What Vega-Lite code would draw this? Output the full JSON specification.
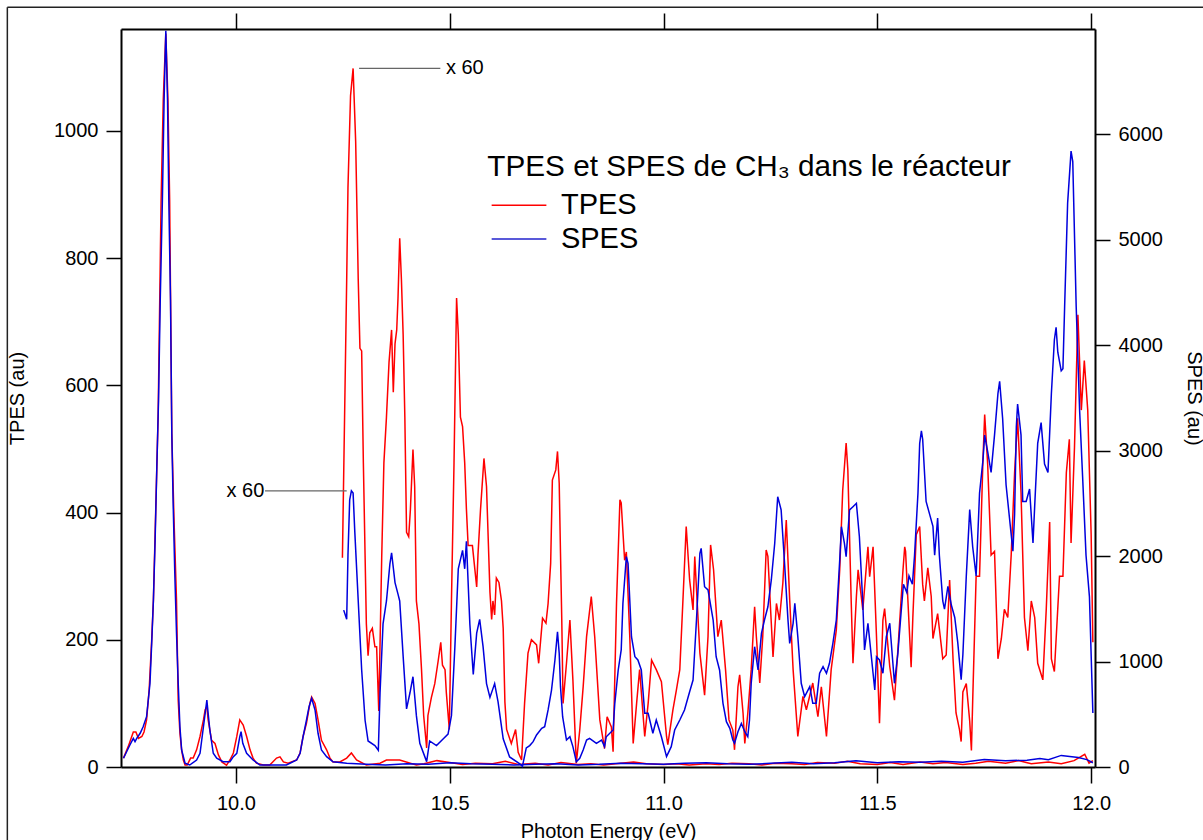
{
  "$schema": "https://vega.github.io/schema/vega-lite/v6.json",
  "width": 974,
  "height": 738,
  "autosize": {"type": "none"},
  "padding": {"left": 121, "top": 29, "right": 108, "bottom": 73},
  "background": "white",
  "config": {"view": {"stroke": null}, "font": "Liberation Sans"},
  "datasets": {
    "tpes": [
      {"E":9.737,"v":14},{"E":9.748,"v":32},{"E":9.760,"v":55},{"E":9.766,"v":55},{"E":9.772,"v":45},{"E":9.780,"v":48},{"E":9.785,"v":55},{"E":9.791,"v":74},{"E":9.797,"v":121},{"E":9.803,"v":200},{"E":9.807,"v":262},{"E":9.811,"v":367},{"E":9.815,"v":472},{"E":9.818,"v":551},{"E":9.825,"v":891},{"E":9.830,"v":1048},{"E":9.836,"v":1153},{"E":9.841,"v":1048},{"E":9.845,"v":891},{"E":9.850,"v":524},{"E":9.855,"v":393},{"E":9.861,"v":262},{"E":9.865,"v":105},{"E":9.869,"v":53},{"E":9.873,"v":27},{"E":9.877,"v":11},{"E":9.881,"v":3},{"E":9.886,"v":3},{"E":9.894,"v":14},{"E":9.900,"v":14},{"E":9.908,"v":27},{"E":9.916,"v":48},{"E":9.924,"v":74},{"E":9.928,"v":90},{"E":9.932,"v":95},{"E":9.935,"v":74},{"E":9.943,"v":42},{"E":9.951,"v":37},{"E":9.959,"v":19},{"E":9.967,"v":8},{"E":9.978,"v":3},{"E":9.986,"v":11},{"E":9.994,"v":22},{"E":10.002,"v":48},{"E":10.009,"v":74},{"E":10.017,"v":66},{"E":10.025,"v":48},{"E":10.033,"v":27},{"E":10.040,"v":14},{"E":10.048,"v":6},{"E":10.064,"v":3},{"E":10.079,"v":3},{"E":10.095,"v":14},{"E":10.103,"v":16},{"E":10.111,"v":8},{"E":10.122,"v":6},{"E":10.142,"v":11},{"E":10.150,"v":22},{"E":10.157,"v":48},{"E":10.165,"v":69},{"E":10.173,"v":100},{"E":10.177,"v":110},{"E":10.185,"v":100},{"E":10.192,"v":74},{"E":10.200,"v":42},{"E":10.212,"v":27},{"E":10.220,"v":14},{"E":10.227,"v":8},{"E":10.243,"v":8},{"E":10.259,"v":14},{"E":10.270,"v":22},{"E":10.282,"v":11},{"E":10.305,"v":3},{"E":10.337,"v":6},{"E":10.352,"v":11},{"E":10.383,"v":11},{"E":10.422,"v":3},
      {"E":10.44,"v":5},{"E":10.47,"v":10},{"E":10.50,"v":7},{"E":10.53,"v":4},{"E":10.56,"v":6},{"E":10.60,"v":5},{"E":10.63,"v":9},{"E":10.66,"v":4},{"E":10.70,"v":6},{"E":10.73,"v":3},{"E":10.76,"v":7},{"E":10.80,"v":4},{"E":10.83,"v":5},{"E":10.86,"v":3},{"E":10.90,"v":6},{"E":10.93,"v":8},{"E":10.96,"v":5},{"E":11.00,"v":4},{"E":11.03,"v":5},{"E":11.06,"v":3},{"E":11.10,"v":5},{"E":11.13,"v":4},{"E":11.16,"v":6},{"E":11.20,"v":5},{"E":11.23,"v":3},{"E":11.26,"v":6},{"E":11.30,"v":5},{"E":11.33,"v":4},{"E":11.36,"v":7},{"E":11.40,"v":6},{"E":11.43,"v":9},{"E":11.46,"v":5},{"E":11.50,"v":4},{"E":11.53,"v":7},{"E":11.56,"v":4},{"E":11.60,"v":8},{"E":11.63,"v":5},{"E":11.66,"v":7},{"E":11.70,"v":4},{"E":11.73,"v":6},{"E":11.76,"v":9},{"E":11.80,"v":6},{"E":11.83,"v":10},{"E":11.86,"v":5},{"E":11.90,"v":8},{"E":11.93,"v":5},{"E":11.96,"v":10},{"E":11.985,"v":20},{"E":11.995,"v":6},{"E":12.004,"v":10}
    ],
    "spes": [
      {"E":9.737,"v":83},{"E":9.752,"v":209},{"E":9.760,"v":272},{"E":9.764,"v":240},{"E":9.768,"v":272},{"E":9.776,"v":320},{"E":9.783,"v":382},{"E":9.791,"v":477},{"E":9.799,"v":794},{"E":9.803,"v":1173},{"E":9.807,"v":1584},{"E":9.811,"v":2153},{"E":9.815,"v":2848},{"E":9.819,"v":3481},{"E":9.823,"v":4429},{"E":9.828,"v":5378},{"E":9.832,"v":6326},{"E":9.836,"v":6984},{"E":9.840,"v":6326},{"E":9.843,"v":5378},{"E":9.847,"v":4429},{"E":9.850,"v":3165},{"E":9.853,"v":2532},{"E":9.857,"v":1837},{"E":9.861,"v":1268},{"E":9.865,"v":794},{"E":9.869,"v":382},{"E":9.873,"v":161},{"E":9.881,"v":35},{"E":9.892,"v":19},{"E":9.908,"v":66},{"E":9.916,"v":130},{"E":9.924,"v":382},{"E":9.932,"v":635},{"E":9.935,"v":509},{"E":9.939,"v":351},{"E":9.947,"v":130},{"E":9.955,"v":83},{"E":9.970,"v":50},{"E":9.986,"v":50},{"E":9.994,"v":98},{"E":10.002,"v":130},{"E":10.009,"v":287},{"E":10.012,"v":335},{"E":10.016,"v":225},{"E":10.025,"v":130},{"E":10.040,"v":66},{"E":10.056,"v":19},{"E":10.118,"v":19},{"E":10.142,"v":66},{"E":10.150,"v":130},{"E":10.157,"v":287},{"E":10.165,"v":446},{"E":10.171,"v":572},{"E":10.177,"v":652},{"E":10.185,"v":541},{"E":10.192,"v":320},{"E":10.200,"v":161},{"E":10.212,"v":98},{"E":10.227,"v":50},{"E":10.259,"v":35},{"E":10.305,"v":26},
      {"E":10.35,"v":20},{"E":10.40,"v":30},{"E":10.45,"v":25},{"E":10.50,"v":40},{"E":10.55,"v":30},{"E":10.60,"v":25},{"E":10.65,"v":20},{"E":10.70,"v":25},{"E":10.75,"v":30},{"E":10.80,"v":20},{"E":10.85,"v":25},{"E":10.90,"v":35},{"E":10.95,"v":30},{"E":11.00,"v":25},{"E":11.05,"v":35},{"E":11.10,"v":40},{"E":11.15,"v":30},{"E":11.20,"v":25},{"E":11.25,"v":35},{"E":11.30,"v":45},{"E":11.35,"v":30},{"E":11.40,"v":40},{"E":11.45,"v":60},{"E":11.50,"v":40},{"E":11.55,"v":50},{"E":11.60,"v":45},{"E":11.65,"v":55},{"E":11.70,"v":45},{"E":11.75,"v":70},{"E":11.80,"v":60},{"E":11.85,"v":65},{"E":11.88,"v":80},{"E":11.90,"v":70},{"E":11.93,"v":110},{"E":11.95,"v":100},{"E":11.97,"v":90},{"E":11.99,"v":70},{"E":12.004,"v":40}
    ],
    "tpes60": [
      {"E":10.249,"v":329},{"E":10.259,"v":766},{"E":10.262,"v":911},{"E":10.268,"v":1055},{"E":10.274,"v":1098},{"E":10.280,"v":983},{"E":10.286,"v":766},{"E":10.290,"v":658},{"E":10.294,"v":654},{"E":10.298,"v":478},{"E":10.302,"v":333},{"E":10.305,"v":225},{"E":10.309,"v":175},{"E":10.313,"v":211},{"E":10.319,"v":218},{"E":10.325,"v":189},{"E":10.329,"v":189},{"E":10.334,"v":88},{"E":10.341,"v":333},{"E":10.346,"v":478},{"E":10.352,"v":550},{"E":10.358,"v":636},{"E":10.364,"v":687},{"E":10.368,"v":589},{"E":10.372,"v":665},{"E":10.376,"v":687},{"E":10.379,"v":737},{"E":10.383,"v":831},{"E":10.387,"v":766},{"E":10.391,"v":680},{"E":10.395,"v":550},{"E":10.399,"v":369},{"E":10.404,"v":362},{"E":10.408,"v":405},{"E":10.414,"v":499},{"E":10.418,"v":441},{"E":10.422,"v":261},{"E":10.428,"v":225},{"E":10.434,"v":153},{"E":10.439,"v":81},{"E":10.446,"v":30},{"E":10.449,"v":81},{"E":10.457,"v":109},{"E":10.465,"v":131},{"E":10.473,"v":167},{"E":10.479,"v":196},{"E":10.483,"v":160},{"E":10.489,"v":153},{"E":10.492,"v":117},{"E":10.499,"v":59},{"E":10.504,"v":261},{"E":10.510,"v":478},{"E":10.516,"v":737},{"E":10.520,"v":680},{"E":10.525,"v":550},{"E":10.530,"v":535},{"E":10.535,"v":478},{"E":10.539,"v":405},{"E":10.543,"v":348},{"E":10.553,"v":348},{"E":10.563,"v":283},{"E":10.566,"v":333},{"E":10.572,"v":405},{"E":10.580,"v":485},{"E":10.586,"v":441},{"E":10.594,"v":275},{"E":10.598,"v":232},{"E":10.601,"v":261},{"E":10.605,"v":239},{"E":10.609,"v":297},{"E":10.615,"v":290},{"E":10.621,"v":261},{"E":10.625,"v":218},{"E":10.629,"v":102},{"E":10.633,"v":59},{"E":10.644,"v":37},{"E":10.654,"v":59},{"E":10.660,"v":23},{"E":10.668,"v":11},{"E":10.675,"v":100},{"E":10.683,"v":179},{"E":10.691,"v":200},{"E":10.703,"v":192},{"E":10.708,"v":163},{"E":10.717,"v":234},{"E":10.725,"v":226},{"E":10.730,"v":257},{"E":10.736,"v":320},{"E":10.740,"v":451},{"E":10.748,"v":467},{"E":10.752,"v":496},{"E":10.756,"v":446},{"E":10.759,"v":336},{"E":10.762,"v":231},{"E":10.765,"v":100},{"E":10.773,"v":163},{"E":10.781,"v":231},{"E":10.788,"v":137},{"E":10.796,"v":6},{"E":10.804,"v":58},{"E":10.812,"v":126},{"E":10.820,"v":205},{"E":10.831,"v":268},{"E":10.839,"v":205},{"E":10.851,"v":74},{"E":10.862,"v":29},{"E":10.868,"v":79},{"E":10.878,"v":63},{"E":10.882,"v":24},{"E":10.890,"v":257},{"E":10.898,"v":420},{"E":10.901,"v":415},{"E":10.909,"v":325},{"E":10.913,"v":338},{"E":10.921,"v":205},{"E":10.929,"v":37},{"E":10.937,"v":100},{"E":10.944,"v":153},{"E":10.956,"v":48},{"E":10.964,"v":100},{"E":10.972,"v":168},{"E":10.983,"v":153},{"E":10.995,"v":134},{"E":11.007,"v":48},{"E":11.010,"v":35},{"E":11.022,"v":90},{"E":11.030,"v":121},{"E":11.038,"v":153},{"E":11.045,"v":257},{"E":11.053,"v":378},{"E":11.061,"v":294},{"E":11.069,"v":247},{"E":11.073,"v":331},{"E":11.085,"v":179},{"E":11.096,"v":113},{"E":11.104,"v":205},{"E":11.110,"v":349},{"E":11.117,"v":310},{"E":11.127,"v":205},{"E":11.135,"v":231},{"E":11.145,"v":153},{"E":11.153,"v":74},{"E":11.162,"v":58},{"E":11.166,"v":27},{"E":11.174,"v":126},{"E":11.178,"v":145},{"E":11.186,"v":84},{"E":11.190,"v":37},{"E":11.197,"v":84},{"E":11.205,"v":153},{"E":11.213,"v":252},{"E":11.217,"v":205},{"E":11.225,"v":132},{"E":11.232,"v":205},{"E":11.240,"v":341},{"E":11.244,"v":331},{"E":11.252,"v":226},{"E":11.256,"v":173},{"E":11.264,"v":257},{"E":11.271,"v":231},{"E":11.279,"v":289},{"E":11.287,"v":388},{"E":11.295,"v":263},{"E":11.303,"v":153},{"E":11.314,"v":48},{"E":11.326,"v":111},{"E":11.334,"v":90},{"E":11.349,"v":132},{"E":11.361,"v":79},{"E":11.369,"v":126},{"E":11.381,"v":48},{"E":11.392,"v":153},{"E":11.404,"v":215},{"E":11.412,"v":310},{"E":11.419,"v":435},{"E":11.427,"v":509},{"E":11.431,"v":467},{"E":11.439,"v":257},{"E":11.443,"v":163},{"E":11.451,"v":268},{"E":11.455,"v":310},{"E":11.466,"v":247},{"E":11.478,"v":346},{"E":11.482,"v":299},{"E":11.490,"v":346},{"E":11.498,"v":205},{"E":11.505,"v":69},{"E":11.513,"v":231},{"E":11.517,"v":249},{"E":11.529,"v":158},{"E":11.540,"v":105},{"E":11.548,"v":184},{"E":11.560,"v":310},{"E":11.564,"v":346},{"E":11.566,"v":339},{"E":11.571,"v":268},{"E":11.579,"v":157},{"E":11.583,"v":235},{"E":11.591,"v":365},{"E":11.599,"v":378},{"E":11.606,"v":287},{"E":11.610,"v":261},{"E":11.618,"v":313},{"E":11.626,"v":268},{"E":11.630,"v":202},{"E":11.641,"v":241},{"E":11.653,"v":170},{"E":11.661,"v":176},{"E":11.669,"v":294},{"E":11.677,"v":170},{"E":11.684,"v":85},{"E":11.692,"v":59},{"E":11.696,"v":40},{"E":11.700,"v":118},{"E":11.708,"v":131},{"E":11.716,"v":72},{"E":11.720,"v":26},{"E":11.723,"v":105},{"E":11.731,"v":300},{"E":11.739,"v":300},{"E":11.747,"v":483},{"E":11.751,"v":554},{"E":11.758,"v":476},{"E":11.766,"v":333},{"E":11.774,"v":339},{"E":11.782,"v":170},{"E":11.790,"v":202},{"E":11.797,"v":248},{"E":11.805,"v":235},{"E":11.813,"v":333},{"E":11.821,"v":463},{"E":11.828,"v":548},{"E":11.836,"v":431},{"E":11.844,"v":235},{"E":11.852,"v":183},{"E":11.860,"v":261},{"E":11.868,"v":235},{"E":11.875,"v":163},{"E":11.887,"v":137},{"E":11.895,"v":248},{"E":11.903,"v":385},{"E":11.907,"v":170},{"E":11.914,"v":150},{"E":11.926,"v":300},{"E":11.934,"v":300},{"E":11.942,"v":463},{"E":11.949,"v":515},{"E":11.953,"v":352},{"E":11.961,"v":502},{"E":11.969,"v":711},{"E":11.977,"v":561},{"E":11.984,"v":639},{"E":11.992,"v":561},{"E":12.000,"v":365},{"E":12.004,"v":196}
    ],
    "spes60": [
      {"E":10.252,"v":1488},{"E":10.259,"v":1401},{"E":10.262,"v":2011},{"E":10.266,"v":2533},{"E":10.270,"v":2620},{"E":10.274,"v":2598},{"E":10.278,"v":2228},{"E":10.286,"v":1575},{"E":10.294,"v":922},{"E":10.302,"v":443},{"E":10.309,"v":247},{"E":10.325,"v":203},{"E":10.333,"v":159},{"E":10.337,"v":704},{"E":10.344,"v":1357},{"E":10.352,"v":1575},{"E":10.360,"v":1924},{"E":10.364,"v":2032},{"E":10.372,"v":1749},{"E":10.379,"v":1640},{"E":10.383,"v":1575},{"E":10.391,"v":1052},{"E":10.399,"v":551},{"E":10.407,"v":704},{"E":10.414,"v":856},{"E":10.422,"v":487},{"E":10.430,"v":225},{"E":10.446,"v":51},{"E":10.453,"v":247},{"E":10.469,"v":203},{"E":10.485,"v":268},{"E":10.496,"v":312},{"E":10.504,"v":487},{"E":10.512,"v":1139},{"E":10.520,"v":1880},{"E":10.530,"v":2054},{"E":10.535,"v":1880},{"E":10.539,"v":2141},{"E":10.547,"v":1357},{"E":10.555,"v":878},{"E":10.563,"v":1270},{"E":10.570,"v":1401},{"E":10.578,"v":1139},{"E":10.586,"v":791},{"E":10.594,"v":660},{"E":10.605,"v":791},{"E":10.613,"v":617},{"E":10.625,"v":268},{"E":10.640,"v":95},{"E":10.664,"v":29},{"E":10.670,"v":7},{"E":10.679,"v":181},{"E":10.687,"v":203},{"E":10.695,"v":240},{"E":10.703,"v":304},{"E":10.715,"v":367},{"E":10.722,"v":382},{"E":10.730,"v":541},{"E":10.738,"v":730},{"E":10.746,"v":1015},{"E":10.752,"v":1283},{"E":10.756,"v":1078},{"E":10.759,"v":762},{"E":10.764,"v":477},{"E":10.773,"v":256},{"E":10.781,"v":287},{"E":10.788,"v":193},{"E":10.796,"v":50},{"E":10.804,"v":83},{"E":10.812,"v":161},{"E":10.820,"v":256},{"E":10.827,"v":272},{"E":10.843,"v":225},{"E":10.855,"v":256},{"E":10.862,"v":193},{"E":10.866,"v":287},{"E":10.882,"v":351},{"E":10.886,"v":604},{"E":10.894,"v":920},{"E":10.901,"v":1110},{"E":10.905,"v":1553},{"E":10.913,"v":1995},{"E":10.917,"v":1932},{"E":10.925,"v":1236},{"E":10.933,"v":1046},{"E":10.940,"v":1015},{"E":10.948,"v":920},{"E":10.956,"v":509},{"E":10.964,"v":509},{"E":10.975,"v":320},{"E":10.983,"v":446},{"E":10.995,"v":287},{"E":11.007,"v":98},{"E":11.018,"v":193},{"E":11.026,"v":351},{"E":11.038,"v":446},{"E":11.049,"v":541},{"E":11.061,"v":714},{"E":11.069,"v":825},{"E":11.077,"v":1394},{"E":11.085,"v":2027},{"E":11.088,"v":2074},{"E":11.096,"v":1710},{"E":11.104,"v":1679},{"E":11.116,"v":1394},{"E":11.123,"v":1046},{"E":11.131,"v":920},{"E":11.139,"v":604},{"E":11.147,"v":430},{"E":11.155,"v":367},{"E":11.162,"v":256},{"E":11.166,"v":225},{"E":11.174,"v":335},{"E":11.182,"v":414},{"E":11.190,"v":335},{"E":11.197,"v":287},{"E":11.201,"v":446},{"E":11.205,"v":794},{"E":11.213,"v":1141},{"E":11.221,"v":920},{"E":11.229,"v":1268},{"E":11.236,"v":1394},{"E":11.244,"v":1520},{"E":11.252,"v":1774},{"E":11.260,"v":2122},{"E":11.267,"v":2564},{"E":11.275,"v":2438},{"E":11.283,"v":1932},{"E":11.291,"v":1394},{"E":11.295,"v":1173},{"E":11.303,"v":1363},{"E":11.307,"v":1553},{"E":11.314,"v":1236},{"E":11.322,"v":794},{"E":11.330,"v":667},{"E":11.342,"v":762},{"E":11.349,"v":604},{"E":11.357,"v":604},{"E":11.365,"v":889},{"E":11.373,"v":951},{"E":11.381,"v":889},{"E":11.388,"v":984},{"E":11.396,"v":1173},{"E":11.404,"v":1394},{"E":11.412,"v":1963},{"E":11.416,"v":2279},{"E":11.423,"v":2122},{"E":11.427,"v":1995},{"E":11.435,"v":2438},{"E":11.443,"v":2469},{"E":11.451,"v":2501},{"E":11.458,"v":2184},{"E":11.466,"v":1553},{"E":11.470,"v":1110},{"E":11.478,"v":1363},{"E":11.486,"v":1046},{"E":11.494,"v":730},{"E":11.498,"v":1046},{"E":11.505,"v":1015},{"E":11.513,"v":889},{"E":11.521,"v":1236},{"E":11.529,"v":1363},{"E":11.540,"v":794},{"E":11.548,"v":1078},{"E":11.556,"v":1489},{"E":11.561,"v":1733},{"E":11.569,"v":1654},{"E":11.574,"v":1812},{"E":11.582,"v":1733},{"E":11.587,"v":2008},{"E":11.595,"v":2598},{"E":11.599,"v":3069},{"E":11.603,"v":3188},{"E":11.606,"v":3109},{"E":11.614,"v":2519},{"E":11.622,"v":2401},{"E":11.630,"v":2283},{"E":11.634,"v":2008},{"E":11.641,"v":2362},{"E":11.645,"v":2008},{"E":11.653,"v":1575},{"E":11.657,"v":1497},{"E":11.665,"v":1713},{"E":11.673,"v":1536},{"E":11.681,"v":1418},{"E":11.688,"v":1182},{"E":11.696,"v":828},{"E":11.700,"v":1064},{"E":11.708,"v":1812},{"E":11.716,"v":2441},{"E":11.723,"v":2087},{"E":11.731,"v":1812},{"E":11.739,"v":2598},{"E":11.747,"v":2912},{"E":11.751,"v":3148},{"E":11.758,"v":2991},{"E":11.766,"v":2794},{"E":11.774,"v":3148},{"E":11.782,"v":3542},{"E":11.786,"v":3659},{"E":11.793,"v":3306},{"E":11.801,"v":2677},{"E":11.809,"v":2362},{"E":11.817,"v":2047},{"E":11.821,"v":2401},{"E":11.825,"v":3227},{"E":11.828,"v":3443},{"E":11.836,"v":3148},{"E":11.840,"v":2519},{"E":11.848,"v":2519},{"E":11.856,"v":2637},{"E":11.864,"v":2126},{"E":11.868,"v":2479},{"E":11.875,"v":3069},{"E":11.883,"v":3266},{"E":11.891,"v":2873},{"E":11.899,"v":2794},{"E":11.907,"v":3542},{"E":11.914,"v":4053},{"E":11.918,"v":4171},{"E":11.922,"v":3934},{"E":11.930,"v":3758},{"E":11.934,"v":3777},{"E":11.938,"v":4367},{"E":11.945,"v":5351},{"E":11.953,"v":5842},{"E":11.957,"v":5743},{"E":11.965,"v":4367},{"E":11.973,"v":3384},{"E":11.980,"v":2755},{"E":11.988,"v":2008},{"E":11.996,"v":1614},{"E":12.004,"v":513}
    ],
    "lines60": [{"E":10.288,"E2":10.478,"v":1098},{"E":10.068,"E2":10.259,"v":434}],
    "labels60": [{"E":10.491,"v":1098,"t":"x 60"},{"E":9.978,"v":434,"t":"x 60"}],
    "title": [{"E":10.588,"v":929,"t":"TPES et SPES de CH₃ dans le réacteur"}],
    "legendlabels": [{"E":10.760,"v":869,"t":"TPES"},{"E":10.760,"v":815,"t":"SPES"}],
    "legendlines": [{"E":10.598,"E2":10.726,"v":883,"s":"TPES"},{"E":10.598,"E2":10.726,"v":830,"s":"SPES"}],
    "border": [{"E":9.4654,"E2":9.4654,"v":1194,"v2":-130},{"E":9.4654,"E2":12.3,"v":1194,"v2":1194}]
  },
  "layer": [
    {
      "data": {"name": "tpes"},
      "mark": {"type": "line", "color": "#ff0000", "strokeWidth": 1.5},
      "encoding": {
        "x": {"field": "E", "type": "quantitative", "scale": {"domain": [9.7312, 12.009], "nice": false, "zero": false},
          "axis": {"orient": "bottom", "values": [10, 10.5, 11, 11.5, 12], "format": ".1f", "tickSize": 16, "tickWidth": 1.5, "tickColor": "black", "domainColor": "black", "domainWidth": 2, "labelFontSize": 20, "labelPadding": 10, "labelColor": "black", "labelFlush": false, "title": "Photon Energy (eV)", "titleFontSize": 20, "titleFontWeight": "normal", "titleColor": "black", "titlePadding": 8, "grid": false}},
        "y": {"field": "v", "type": "quantitative", "scale": {"domain": [0, 1160], "nice": false, "zero": false},
          "axis": {"orient": "left", "values": [0, 200, 400, 600, 800, 1000], "format": "d", "tickSize": 15, "tickWidth": 1.5, "tickColor": "black", "domainColor": "black", "domainWidth": 2, "labelFontSize": 20, "labelPadding": 8, "labelColor": "black", "labelFlush": false, "title": "TPES (au)", "titleFontSize": 20, "titleFontWeight": "normal", "titleColor": "black", "titlePadding": 26, "grid": false}}
      }
    },
    {
      "data": {"name": "tpes60"},
      "mark": {"type": "line", "color": "#ff0000", "strokeWidth": 1.5},
      "encoding": {
        "x": {"field": "E", "type": "quantitative", "scale": {"domain": [9.7312, 12.009], "nice": false, "zero": false}, "axis": null},
        "y": {"field": "v", "type": "quantitative", "scale": {"domain": [0, 1160], "nice": false, "zero": false}, "axis": null}
      }
    },
    {
      "data": {"name": "lines60"},
      "mark": {"type": "rule", "color": "#666666", "strokeWidth": 1.2},
      "encoding": {
        "x": {"field": "E", "type": "quantitative", "scale": {"domain": [9.7312, 12.009], "nice": false, "zero": false}, "axis": null},
        "x2": {"field": "E2"},
        "y": {"field": "v", "type": "quantitative", "scale": {"domain": [0, 1160], "nice": false, "zero": false}, "axis": null}
      }
    },
    {
      "data": {"name": "labels60"},
      "mark": {"type": "text", "align": "left", "baseline": "middle", "fontSize": 20, "color": "black"},
      "encoding": {
        "x": {"field": "E", "type": "quantitative", "scale": {"domain": [9.7312, 12.009], "nice": false, "zero": false}, "axis": null},
        "y": {"field": "v", "type": "quantitative", "scale": {"domain": [0, 1160], "nice": false, "zero": false}, "axis": null},
        "text": {"field": "t"}
      }
    },
    {
      "data": {"name": "title"},
      "mark": {"type": "text", "align": "left", "baseline": "alphabetic", "fontSize": 29.7, "color": "black"},
      "encoding": {
        "x": {"field": "E", "type": "quantitative", "scale": {"domain": [9.7312, 12.009], "nice": false, "zero": false}, "axis": null},
        "y": {"field": "v", "type": "quantitative", "scale": {"domain": [0, 1160], "nice": false, "zero": false}, "axis": null},
        "text": {"field": "t"}
      }
    },
    {
      "data": {"name": "legendlabels"},
      "mark": {"type": "text", "align": "left", "baseline": "alphabetic", "fontSize": 29, "color": "black"},
      "encoding": {
        "x": {"field": "E", "type": "quantitative", "scale": {"domain": [9.7312, 12.009], "nice": false, "zero": false}, "axis": null},
        "y": {"field": "v", "type": "quantitative", "scale": {"domain": [0, 1160], "nice": false, "zero": false}, "axis": null},
        "text": {"field": "t"}
      }
    },
    {
      "data": {"name": "legendlines"},
      "mark": {"type": "rule", "strokeWidth": 1.5},
      "encoding": {
        "x": {"field": "E", "type": "quantitative", "scale": {"domain": [9.7312, 12.009], "nice": false, "zero": false}, "axis": null},
        "x2": {"field": "E2"},
        "y": {"field": "v", "type": "quantitative", "scale": {"domain": [0, 1160], "nice": false, "zero": false}, "axis": null},
        "color": {"field": "s", "type": "nominal", "scale": {"domain": ["TPES", "SPES"], "range": ["#ff0000", "#2222cc"]}, "legend": null}
      }
    },
    {
      "data": {"name": "border"},
      "mark": {"type": "rule", "color": "#222222", "strokeWidth": 1.5},
      "encoding": {
        "x": {"field": "E", "type": "quantitative", "scale": {"domain": [9.7312, 12.009], "nice": false, "zero": false}, "axis": null},
        "x2": {"field": "E2"},
        "y": {"field": "v", "type": "quantitative", "scale": {"domain": [0, 1160], "nice": false, "zero": false}, "axis": null},
        "y2": {"field": "v2"}
      }
    },
    {
      "data": {"name": "spes"},
      "mark": {"type": "line", "color": "#0000dd", "strokeWidth": 1.5},
      "encoding": {
        "x": {"field": "E", "type": "quantitative", "scale": {"domain": [9.7312, 12.009], "nice": false, "zero": false},
          "axis": {"orient": "top", "values": [10, 10.5, 11, 11.5, 12], "labels": false, "tickSize": 16, "tickWidth": 1.5, "tickColor": "black", "domainColor": "black", "domainWidth": 2, "title": null, "grid": false}},
        "y": {"field": "v", "type": "quantitative", "scale": {"domain": [0, 7000], "nice": false, "zero": false},
          "axis": {"orient": "right", "values": [0, 1000, 2000, 3000, 4000, 5000, 6000], "format": "d", "tickSize": 15, "tickWidth": 1.5, "tickColor": "black", "domainColor": "black", "domainWidth": 2, "labelFontSize": 20, "labelPadding": 8, "labelColor": "black", "labelFlush": false, "title": "SPES (au)", "titleFontSize": 20, "titleFontWeight": "normal", "titleColor": "black", "titlePadding": 21, "grid": false}}
      }
    },
    {
      "data": {"name": "spes60"},
      "mark": {"type": "line", "color": "#0000dd", "strokeWidth": 1.5},
      "encoding": {
        "x": {"field": "E", "type": "quantitative", "scale": {"domain": [9.7312, 12.009], "nice": false, "zero": false}, "axis": null},
        "y": {"field": "v", "type": "quantitative", "scale": {"domain": [0, 7000], "nice": false, "zero": false}, "axis": null}
      }
    }
  ],
  "resolve": {"scale": {"y": "independent"}, "axis": {"x": "independent", "y": "independent"}}
}
